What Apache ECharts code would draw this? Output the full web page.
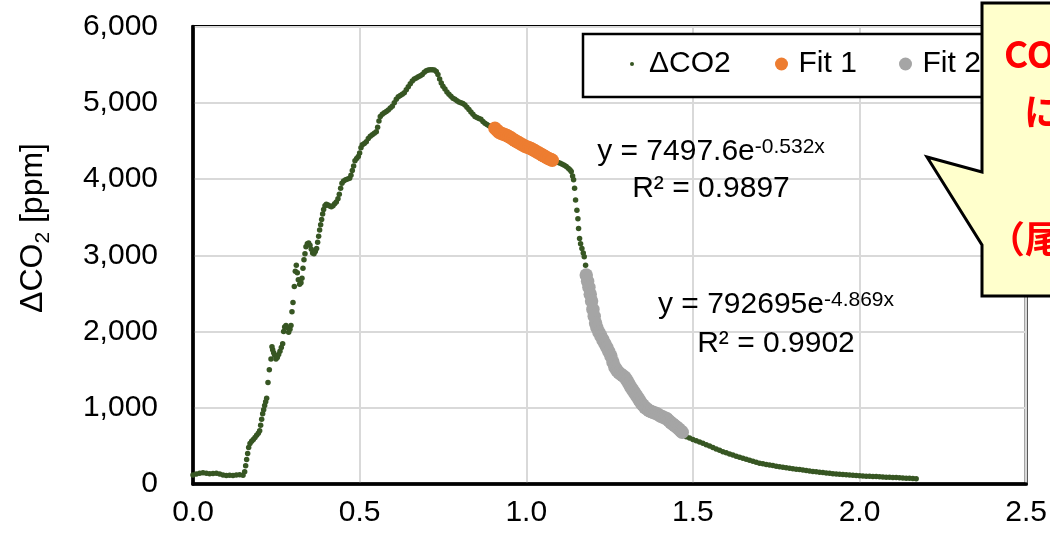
<!DOCTYPE html>
<html><head><meta charset="utf-8">
<script src="https://cdn.jsdelivr.net/npm/echarts@6/dist/echarts.min.js"></script>
<style>html,body{margin:0;padding:0;background:#fff}#c{width:1050px;height:534px}</style>
</head><body><div id="c"></div>
<script>
const co2Points = [
[0.000,118],[0.010,130],[0.020,140],[0.030,146],[0.040,140],[0.050,134],[0.060,138],[0.070,142],[0.080,130],[0.090,118],[0.100,112],[0.110,116],[0.120,112],[0.130,118],[0.140,122],[0.150,116],
[0.155,160],[0.158,240],[0.161,320],[0.164,400],[0.167,480],[0.171,530],[0.176,560],[0.181,585],[0.186,610],[0.191,640],[0.196,665],[0.200,700],[0.203,770],[0.206,850],[0.209,920],[0.212,975],[0.215,1030],[0.218,1080],[0.221,1125],[0.225,1330],[0.229,1500],[0.234,1640],[0.237,1800],[0.239,1760],[0.242,1720],[0.245,1690],[0.249,1640],[0.253,1660],[0.257,1700],[0.261,1740],[0.265,1790],[0.269,1840],[0.272,2000],[0.275,2060],[0.279,2080],[0.283,2050],[0.287,1990],[0.291,2030],[0.294,2080],[0.297,2260],[0.300,2380],[0.304,2590],[0.307,2790],[0.310,2870],[0.313,2770],[0.316,2680],[0.320,2620],[0.324,2640],[0.327,2700],[0.330,2830],[0.333,2940],[0.336,3020],[0.339,3110],[0.343,3150],[0.347,3160],[0.351,3130],[0.355,3080],[0.359,3030],[0.363,3020],[0.367,3050],[0.371,3090],[0.374,3170],[0.377,3250],[0.380,3330],[0.383,3400],[0.386,3470],[0.389,3540],[0.392,3600],[0.396,3650],[0.400,3670],
[0.405,3660],[0.410,3645],[0.415,3635],[0.420,3650],[0.425,3675],[0.430,3700],[0.435,3740],[0.439,3800],[0.443,3880],[0.447,3945],[0.452,3975],[0.458,3990],[0.464,4000],[0.470,4010],[0.474,4050],[0.478,4110],[0.482,4170],[0.486,4240],[0.491,4270],[0.496,4295],[0.500,4340],[0.504,4410],[0.508,4450],[0.514,4465],[0.520,4490],[0.526,4530],[0.532,4560],[0.538,4580],[0.544,4600],[0.550,4620],[0.554,4680],[0.558,4760],[0.562,4820],[0.568,4850],[0.574,4870],[0.580,4885],[0.586,4905],[0.592,4930],[0.598,4955],[0.604,5000],[0.610,5045],[0.616,5078],[0.622,5095],[0.628,5110],[0.634,5130],[0.640,5170],[0.646,5210],[0.652,5250],[0.658,5285],[0.664,5310],[0.670,5325],[0.676,5340],[0.682,5355],[0.688,5370],[0.694,5400],[0.700,5420],[0.706,5430],[0.712,5432],[0.718,5432],[0.724,5430],[0.730,5410],[0.735,5370],[0.740,5310],[0.745,5260],[0.750,5215],[0.756,5180],[0.762,5140],[0.768,5110],[0.774,5085],[0.780,5060],[0.786,5045],[0.792,5025],[0.798,5010],[0.804,5000],[0.810,4990],[0.816,4970],[0.822,4940],[0.828,4910],[0.834,4880],[0.840,4850],[0.846,4820],[0.852,4805],[0.858,4795],[0.864,4785],[0.870,4755],[0.876,4730],[0.882,4715],[0.888,4700],[0.894,4690],[0.900,4675],
[0.906,4665],[0.912,4640],[0.918,4615],[0.924,4600],[0.930,4590],[0.936,4580],[0.942,4570],[0.948,4555],[0.954,4540],[0.960,4520],[0.966,4505],[0.972,4490],[0.978,4475],[0.984,4460],[0.990,4445],[0.996,4430],[1.002,4420],[1.008,4410],[1.014,4400],[1.020,4385],[1.026,4370],[1.032,4355],[1.038,4340],[1.044,4325],[1.050,4310],[1.056,4295],[1.062,4280],[1.068,4265],[1.074,4255],[1.078,4245],
[1.084,4235],[1.090,4225],[1.096,4215],[1.102,4205],[1.108,4195],[1.114,4180],[1.120,4165],[1.126,4140],[1.131,4120],[1.135,4100],[1.139,4040],[1.142,3990],[1.145,3880],[1.148,3725],[1.152,3590],[1.155,3480],[1.157,3350],[1.160,3220],[1.163,3150],[1.167,3090],[1.171,3030],[1.174,2980],[1.178,2870],
[1.180,2740],[1.184,2660],[1.188,2580],[1.192,2490],[1.196,2400],[1.200,2290],[1.204,2200],[1.208,2110],[1.212,2050],[1.218,1990],[1.224,1940],[1.230,1890],[1.236,1840],[1.242,1790],[1.248,1735],[1.254,1680],[1.260,1600],[1.266,1530],[1.272,1490],[1.278,1460],[1.284,1440],[1.290,1420],[1.296,1400],[1.302,1360],[1.308,1315],[1.314,1270],[1.320,1230],[1.326,1190],[1.332,1150],[1.338,1110],[1.344,1070],[1.350,1035],[1.356,1005],[1.362,985],[1.368,965],[1.374,950],[1.380,940],[1.386,930],[1.392,922],[1.398,905],[1.404,890],[1.410,878],[1.416,866],[1.422,855],[1.428,830],[1.434,805],[1.440,785],[1.446,765],[1.452,745],[1.458,720],[1.464,695],[1.468,680],
[1.474,650],[1.480,620],[1.490,603],[1.500,585],[1.510,568],[1.520,550],[1.530,533],[1.540,515],[1.550,497],[1.560,478],[1.570,460],[1.580,442],[1.590,424],[1.600,409],[1.610,394],[1.620,380],[1.630,365],[1.640,351],[1.650,337],[1.660,324],[1.670,310],[1.680,297],[1.690,284],[1.700,272],[1.710,264],[1.720,257],[1.730,249],[1.740,241],[1.750,234],[1.760,226],[1.770,219],[1.780,213],[1.790,207],[1.800,201],[1.810,195],[1.820,189],[1.830,183],[1.840,176],[1.850,170],[1.860,165],[1.870,160],[1.880,155],[1.890,150],[1.900,145],[1.910,141],[1.920,136],[1.930,131],[1.940,128],[1.950,125],[1.960,121],[1.970,118],[1.980,115],[1.990,111],[2.000,108],[2.010,105],[2.020,103],[2.030,101],[2.040,99],[2.050,97],[2.060,95],[2.070,93],[2.080,90],[2.090,88],[2.100,86],[2.110,84],[2.120,81],[2.130,79],[2.140,77],[2.150,75],[2.160,73],[2.170,70]
];
// time ranges used for the two exponential fits
const fit1Range = [0.905, 1.080];
const fit2Range = [1.179, 1.470];
const fit1Points = co2Points.filter(p => p[0] >= fit1Range[0] && p[0] <= fit1Range[1]);
const fit2Points = co2Points.filter(p => p[0] >= fit2Range[0] && p[0] <= fit2Range[1]);
const seriesNames = ['ΔCO2', 'Fit 1', 'Fit 2'];
const xAxisTicks = [0, 0.5, 1.0, 1.5, 2.0, 2.5];
const yAxisTicks = [0, 1000, 2000, 3000, 4000, 5000, 6000];
const fit1Eq = ['y = 7497.6e', '-0.532x', 'R² = 0.9897'];
const fit2Eq = ['y = 792695e', '-4.869x', 'R² = 0.9902'];
const calloutLines = ['CO₂濃度の減衰', 'に着目', '（尾部）'];

const FONT = "'Liberation Sans', Arial, sans-serif";
const chart = echarts.init(document.getElementById('c'), null, {renderer: 'canvas'});

function legendItem(name, left, h) {
  return {
    show: true, left: left, top: 49, padding: 0, itemWidth: 24, itemHeight: h,
    data: [{name: name, icon: 'circle'}], selectedMode: false,
    textStyle: {fontFamily: FONT, fontSize: 30, color: '#000'}, z: 6
  };
}

const option = {
  animation: false,
  backgroundColor: '#fff',
  grid: {left: 193, right: 23, top: 26.5, bottom: 50, show: true, borderColor: '#000', borderWidth: 3, backgroundColor: 'transparent'},
  xAxis: {
    type: 'value', min: xAxisTicks[0], max: xAxisTicks[xAxisTicks.length - 1], interval: 0.5,
    axisLine: {show: true, onZero: false, lineStyle: {color: '#000', width: 3.5}},
    axisTick: {show: false},
    splitLine: {show: true, lineStyle: {color: '#d9d9d9', width: 2}},
    axisLabel: {fontFamily: FONT, fontSize: 30, color: '#000', margin: 14, formatter: v => v.toFixed(1)}
  },
  yAxis: {
    type: 'value', min: yAxisTicks[0], max: yAxisTicks[yAxisTicks.length - 1], interval: 1000,
    axisLine: {show: true, onZero: false, lineStyle: {color: '#000', width: 3.5}},
    axisTick: {show: false},
    splitLine: {show: true, lineStyle: {color: '#d9d9d9', width: 2}},
    axisLabel: {fontFamily: FONT, fontSize: 30, color: '#000', margin: 35, formatter: v => v.toLocaleString('en-US')}
  },
  legend: [
    legendItem(seriesNames[0], 630, 4),
    legendItem(seriesNames[1], 775, 13),
    legendItem(seriesNames[2], 899, 13)
  ],
  series: [
    {name: seriesNames[0], type: 'scatter', data: co2Points, symbol: 'circle', symbolSize: 5.5, itemStyle: {color: '#375623', opacity: 1}, silent: true},
    {name: seriesNames[1], type: 'scatter', data: fit1Points, symbol: 'circle', symbolSize: 13.5, itemStyle: {color: '#ED7D31', opacity: 1}, silent: true},
    {name: seriesNames[2], type: 'scatter', data: fit2Points, symbol: 'circle', symbolSize: 13.5, itemStyle: {color: '#A5A5A5', opacity: 1}, silent: true}
  ],
  graphic: [
    // y-axis title
    {type: 'text', x: 33, y: 228, rotation: Math.PI / 2, z: 5,
      style: {text: '{a|ΔCO}{s|2}{a| [ppm]}', align: 'center', verticalAlign: 'middle',
        rich: {a: {fontFamily: FONT, fontSize: 32, lineHeight: 42, fill: '#000', verticalAlign: 'middle'},
               s: {fontFamily: FONT, fontSize: 21, lineHeight: 21, fill: '#000', verticalAlign: 'bottom'}}}},
    // legend frame
    {type: 'rect', shape: {x: 583, y: 34, width: 430, height: 63}, z: 4,
      style: {fill: '#fff', stroke: '#000', lineWidth: 2.5}},
    // trendline equations
    {type: 'text', x: 711, y: 152, z: 5,
      style: {text: '{a|' + fit1Eq[0] + '}{b|' + fit1Eq[1] + '}', align: 'center', verticalAlign: 'middle',
        rich: {a: {fontFamily: FONT, fontSize: 30, lineHeight: 30, fill: '#000'},
               b: {fontFamily: FONT, fontSize: 21, lineHeight: 22, fill: '#000', verticalAlign: 'top'}}}},
    {type: 'text', x: 711, y: 189, z: 5,
      style: {text: fit1Eq[2], align: 'center', verticalAlign: 'middle', font: "30px 'Liberation Sans', Arial, sans-serif", fill: '#000'}},
    {type: 'text', x: 776, y: 305, z: 5,
      style: {text: '{a|' + fit2Eq[0] + '}{b|' + fit2Eq[1] + '}', align: 'center', verticalAlign: 'middle',
        rich: {a: {fontFamily: FONT, fontSize: 30, lineHeight: 30, fill: '#000'},
               b: {fontFamily: FONT, fontSize: 21, lineHeight: 22, fill: '#000', verticalAlign: 'top'}}}},
    {type: 'text', x: 776, y: 344, z: 5,
      style: {text: fit2Eq[2], align: 'center', verticalAlign: 'middle', font: "30px 'Liberation Sans', Arial, sans-serif", fill: '#000'}},
    // callout
    {type: 'polygon', z: 20,
      shape: {points: [[982, 3], [1070, 3], [1070, 296], [982, 296], [982, 245], [927, 157], [982, 172]]},
      style: {fill: '#FFFFCC', stroke: '#000', lineWidth: 3}},
    {type: 'text', x: 1004, y: 54, z: 21,
      style: {text: calloutLines[0], align: 'left', verticalAlign: 'middle', font: "bold 37px 'Noto Sans CJK JP', sans-serif", fill: '#ff0000'}},
    {type: 'text', x: 1024, y: 112, z: 21,
      style: {text: calloutLines[1], align: 'left', verticalAlign: 'middle', font: "bold 37px 'Noto Sans CJK JP', sans-serif", fill: '#ff0000'}},
    {type: 'text', x: 988, y: 239, z: 21,
      style: {text: calloutLines[2], align: 'left', verticalAlign: 'middle', font: "bold 37px 'Noto Sans CJK JP', sans-serif", fill: '#ff0000'}}
  ]
};
chart.setOption(option);
</script>
</body></html>
